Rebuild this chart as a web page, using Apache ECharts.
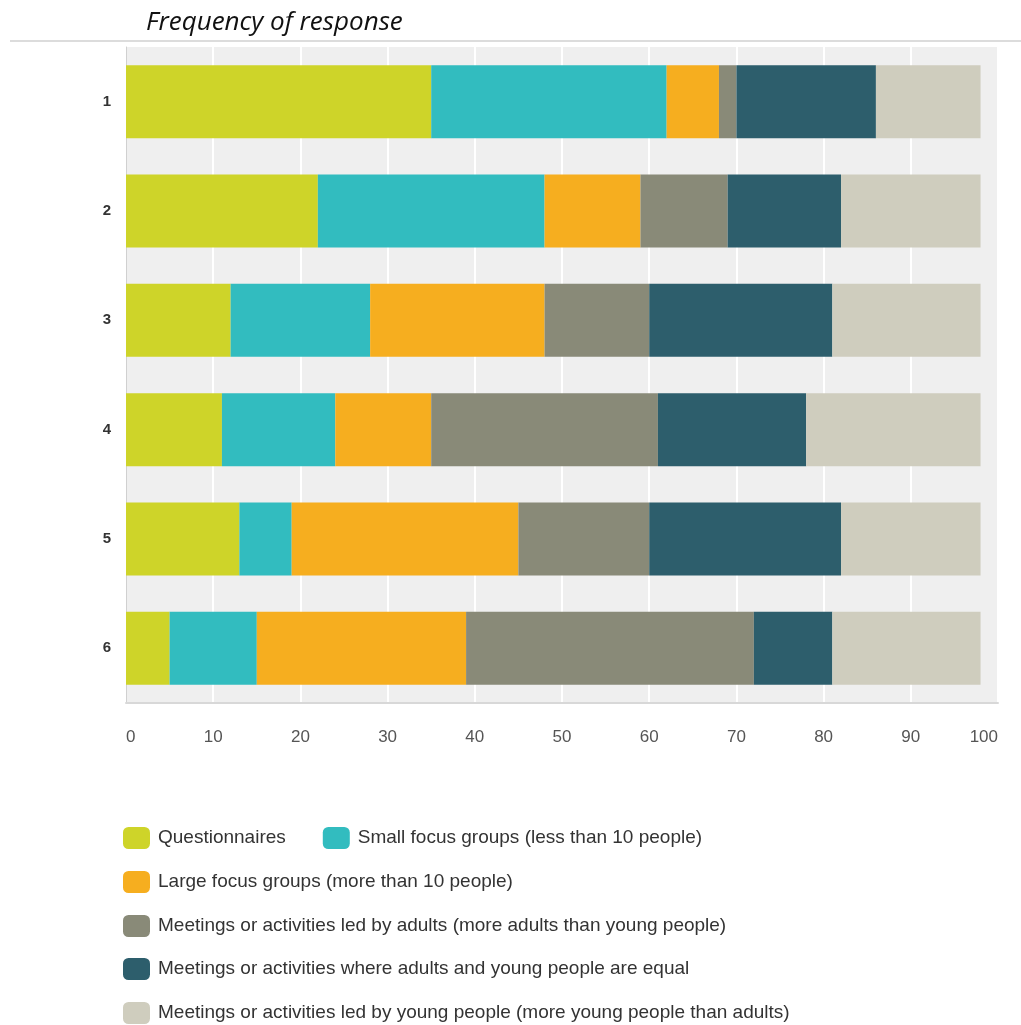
<!DOCTYPE html>
<html>
<head>
<meta charset="utf-8">
<script src="https://cdn.jsdelivr.net/npm/echarts@6/dist/echarts.min.js"></script>
<style>
html,body{margin:0;padding:0;background:#fff;}
#chart{width:1021px;height:1025px;}
</style>
</head>
<body>
<div id="chart"></div>
<script>
const categories = ['1', '2', '3', '4', '5', '6'];
const seriesNames = [
  'Questionnaires',
  'Small focus groups (less than 10 people)',
  'Large focus groups (more than 10 people)',
  'Meetings or activities led by adults (more adults than young people)',
  'Meetings or activities where adults and young people are equal',
  'Meetings or activities led by young people (more young people than adults)'
];
const questionnaires = [35, 22, 12, 11, 13, 5];
const smallFocus     = [27, 26, 16, 13, 6, 10];
const largeFocus     = [6, 11, 20, 11, 26, 24];
const ledByAdults    = [2, 10, 12, 26, 15, 33];
const equalMeetings  = [16, 13, 21, 17, 22, 9];
const ledByYoung     = [12, 16, 17, 20, 16, 17];
const xTicks = [0, 10, 20, 30, 40, 50, 60, 70, 80, 90, 100];
const titleText = 'Frequency of response';

const colors = ['#CED429', '#32BCBF', '#F6AE1F', '#898A78', '#2D5E6C', '#CFCDBE'];
const values = [questionnaires, smallFocus, largeFocus, ledByAdults, equalMeetings, ledByYoung];

const chart = echarts.init(document.getElementById('chart'));
const legendText = { fontFamily: 'Liberation Sans, Arial, sans-serif', fontSize: 19, color: '#333', padding: [0, 0, 0, 3] };
const legendBase = {
  orient: 'horizontal', left: 123, padding: 0, itemWidth: 27, itemHeight: 22, itemGap: 37,
  icon: 'roundRect', textStyle: legendText, selectedMode: false
};

chart.setOption({
  animation: false,
  color: colors,
  title: {
    text: titleText, left: 146, top: 10, padding: 0,
    textStyle: { fontFamily: 'Open Sans, sans-serif', fontStyle: 'italic', fontWeight: 'normal', fontSize: 26, color: '#111' }
  },
  graphic: [{
    type: 'rect', shape: { x: 10, y: 40, width: 1011, height: 2 },
    style: { fill: '#dcdcdc' }
  }],
  grid: {
    left: 126, right: 23, top: 47, bottom: 322, show: true,
    backgroundColor: '#efefef', borderWidth: 0
  },
  legend: [
    Object.assign({}, legendBase, { top: 827, data: [seriesNames[0], seriesNames[1]] }),
    Object.assign({}, legendBase, { top: 871, data: [seriesNames[2]] }),
    Object.assign({}, legendBase, { top: 915, data: [seriesNames[3]] }),
    Object.assign({}, legendBase, { top: 958, data: [seriesNames[4]] }),
    Object.assign({}, legendBase, { top: 1002, data: [seriesNames[5]] })
  ],
  xAxis: {
    type: 'value', min: xTicks[0], max: xTicks[xTicks.length - 1], interval: 10,
    axisLine: { show: true, lineStyle: { color: '#d8d8d8', width: 2 } },
    axisTick: { show: false },
    splitLine: { show: true, lineStyle: { color: '#ffffff', width: 2 } },
    axisLabel: {
      margin: 26, color: '#555', fontSize: 17, fontFamily: 'Liberation Sans, Arial, sans-serif',
      alignMinLabel: 'left', alignMaxLabel: 'right'
    }
  },
  yAxis: {
    type: 'category', data: categories, inverse: true,
    axisLine: { show: true, lineStyle: { color: '#d0d0d0', width: 1 } },
    axisTick: { show: false },
    axisLabel: { margin: 15, color: '#333', fontSize: 15, fontWeight: 'bold', fontFamily: 'Liberation Sans, Arial, sans-serif' }
  },
  series: seriesNames.map((name, i) => ({
    name: name, type: 'bar', stack: 'total', data: values[i],
    barWidth: 73, itemStyle: { color: colors[i] }
  }))
});
</script>
</body>
</html>
